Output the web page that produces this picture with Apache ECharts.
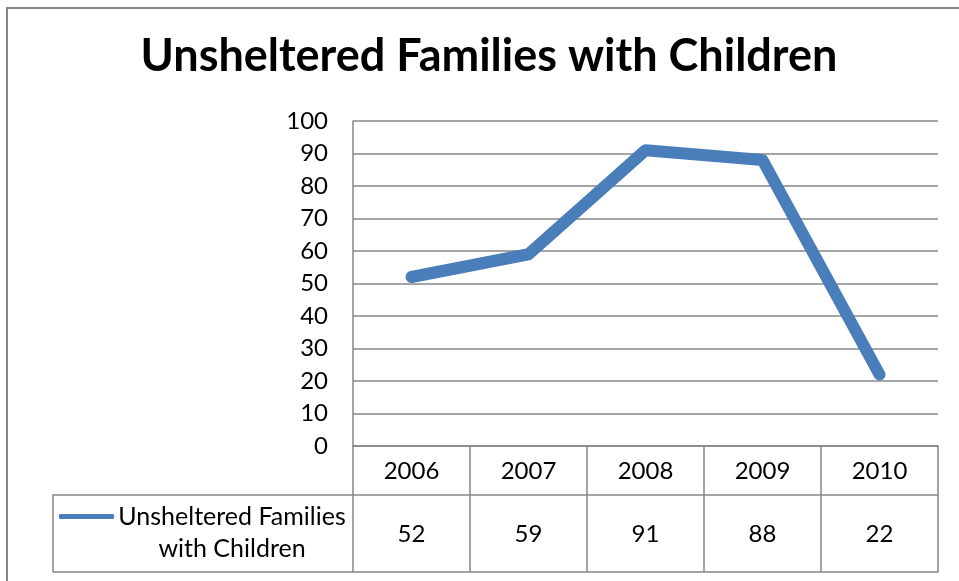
<!DOCTYPE html>
<html>
<head>
<meta charset="utf-8">
<script src="https://cdn.jsdelivr.net/npm/echarts@6/dist/echarts.min.js"></script>
<style>
html,body{margin:0;padding:0;background:#fff;}
#chart{width:959px;height:581px;}
</style>
</head>
<body>
<div id="chart"></div>
<script>
const titleText = 'Unsheltered Families with Children';
const seriesName = 'Unsheltered Families with Children';
const categories = ['2006', '2007', '2008', '2009', '2010'];
const values = [52, 59, 91, 88, 22];
const yTicks = [0, 10, 20, 30, 40, 50, 60, 70, 80, 90, 100];

const W = 959, H = 581;
const gridLeft = 353, gridRight = 938, gridTop = 121, gridBottom = 446;
const rowH1 = 49, rowH2 = 77;
const legendLeft = 53;
const gray = '#878787';
const FONT = 'Lato';

const chart = echarts.init(document.getElementById('chart'), null, {renderer: 'canvas'});
const option = {
  animation: false,
  backgroundColor: '#fff',
  title: {
    text: titleText,
    left: 484, top: 29, textAlign: 'center',
    textStyle: {fontFamily: FONT, fontWeight: 'bold', fontSize: 45, color: '#000'}
  },
  grid: {left: gridLeft, right: W - gridRight, top: gridTop, bottom: H - gridBottom, containLabel: false},
  legend: {
    data: [seriesName],
    left: legendLeft + 6, top: 515 - 43, padding: 0,
    itemWidth: 55, itemHeight: 5, itemGap: 5,
    icon: 'roundRect',
    formatter: function () {
      return '{s| }\n{a|Unsheltered Families}\n{a|with Children}';
    },
    textStyle: {
      fontFamily: FONT, fontSize: 25, color: '#000',
      rich: {
        s: {lineHeight: 32, fontSize: 25, fontFamily: FONT},
        a: {lineHeight: 32, fontSize: 25, fontFamily: FONT, width: 226, align: 'center', color: '#000'}
      }
    }
  },
  xAxis: [
    {
      type: 'category', data: categories, position: 'bottom', boundaryGap: true,
      axisLine: {show: true, lineStyle: {color: gray, width: 1.5}},
      axisTick: {show: true, interval: 0, length: rowH1 + rowH2, lineStyle: {color: gray, width: 1.5}},
      axisLabel: {margin: 13, fontFamily: FONT, fontSize: 24, color: '#000', interval: 0},
      splitLine: {show: false}
    },
    {
      type: 'category', data: categories, position: 'bottom', offset: rowH1, boundaryGap: true,
      axisLine: {show: true, lineStyle: {color: gray, width: 1.5}},
      axisTick: {show: false},
      axisLabel: {margin: 27, fontFamily: FONT, fontSize: 24, color: '#000', interval: 0,
        formatter: function (v, i) { return String(values[i]); }},
      splitLine: {show: false}
    },
    {
      type: 'category', data: categories, position: 'bottom', offset: rowH1 + rowH2, boundaryGap: true,
      axisLine: {show: true, lineStyle: {color: gray, width: 1.5}},
      axisTick: {show: false},
      axisLabel: {show: false},
      splitLine: {show: false}
    }
  ],
  yAxis: {
    type: 'value', min: 0, max: 100, interval: 10,
    axisLine: {show: true, lineStyle: {color: gray, width: 1.5}},
    axisTick: {show: false},
    axisLabel: {margin: 25, fontFamily: FONT, fontSize: 24, color: '#000',
      formatter: function (v) { return yTicks.indexOf(v) >= 0 ? String(v) : ''; }},
    splitLine: {show: true, lineStyle: {color: gray, width: 1.5}}
  },
  series: [{
    name: seriesName, type: 'line', data: values, xAxisIndex: 0,
    showSymbol: false, symbol: 'none',
    lineStyle: {color: '#4A7EBB', width: 12, cap: 'round', join: 'round'},
    itemStyle: {color: '#4A7EBB'}
  }],
  graphic: [
    {type: 'rect', silent: true, z: -1,
      shape: {x: 7, y: 8, width: W + 20, height: H + 20},
      style: {fill: 'none', stroke: gray, lineWidth: 2}},
    {type: 'polyline', silent: true,
      shape: {points: [[gridLeft, gridBottom + rowH1], [legendLeft, gridBottom + rowH1], [legendLeft, gridBottom + rowH1 + rowH2], [gridLeft, gridBottom + rowH1 + rowH2]]},
      style: {fill: 'none', stroke: gray, lineWidth: 1.5}}
  ]
};
chart.setOption(option);
</script>
</body>
</html>
